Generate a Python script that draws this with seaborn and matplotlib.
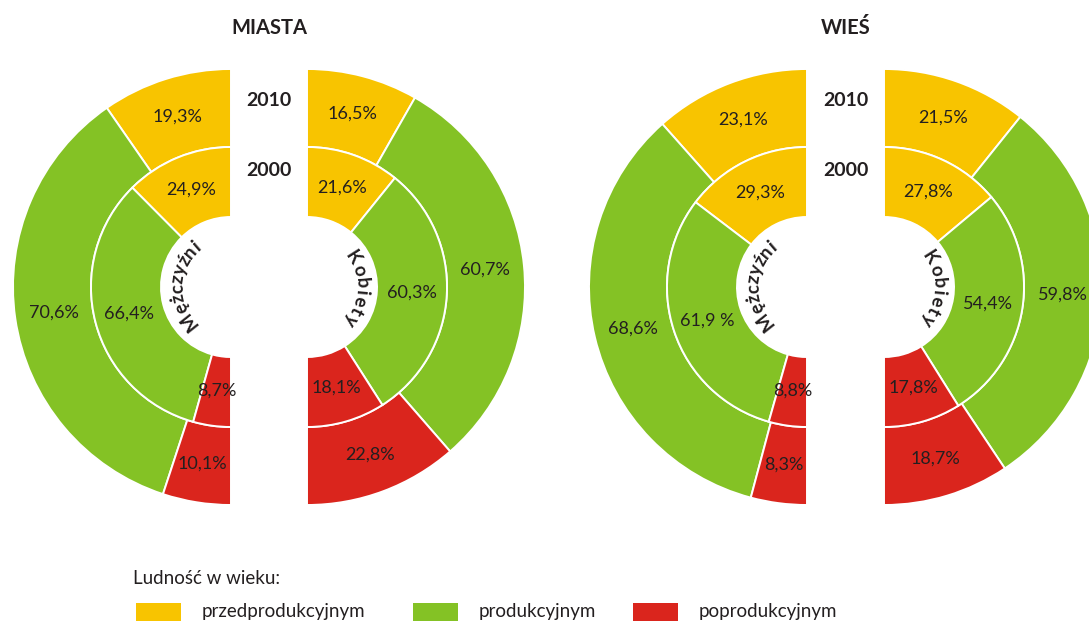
import numpy as np
import matplotlib
matplotlib.use("Agg")
import matplotlib.pyplot as plt
import seaborn as sns
from matplotlib.patches import Rectangle

# ---------------- data ----------------
categories = ["przedprodukcyjnym", "produkcyjnym", "poprodukcyjnym"]
miasta_m_2010 = [19.3, 70.6, 10.1]
miasta_m_2000 = [24.9, 66.4, 8.7]
miasta_k_2010 = [16.5, 60.7, 22.8]
miasta_k_2000 = [21.6, 60.3, 18.1]
wies_m_2010 = [23.1, 68.6, 8.3]
wies_m_2000 = [29.3, 61.9, 8.8]
wies_k_2010 = [21.5, 59.8, 18.7]
wies_k_2000 = [27.8, 54.4, 17.8]
panel_titles = ["MIASTA", "WIEŚ"]
sex_labels = ["Mężczyźni", "Kobiety"]
year_labels = ["2010", "2000"]
legend_title = "Ludność w wieku:"
label_override = {("WIEŚ", "M", "2000", 1): "61,9 %"}

colors = ["#F8C400", "#84C225", "#DA251D"]

sns.set_theme(style="white")
plt.rcParams["font.family"] = ["Lato", "DejaVu Sans"]

W, H = 1089, 621
fig = plt.figure(figsize=(W / 100, H / 100), dpi=100)
ax = fig.add_axes([0, 0, 1, 1])
ax.set_xlim(0, W)
ax.set_ylim(0, H)
ax.set_aspect("equal")
renderer = fig.canvas.get_renderer()

R_OUT, R_MID, R_IN = 218, 140, 70
CY = H - 287
TXT = "#231f20"


def fmt(v):
    return f"{v:.1f}%".replace(".", ",")


def half_ring(vals, cx, r_out, r_in, left, key):
    frac = np.array(vals) / 200.0
    wedges, _ = ax.pie(frac, normalize=False, radius=r_out, center=(cx, CY),
                       startangle=90, counterclock=left, colors=colors,
                       frame=True,
                       wedgeprops=dict(width=r_out - r_in, edgecolor="white",
                                       linewidth=1.4))
    rr = (r_out + r_in) / 2
    for i, (w, v) in enumerate(zip(wedges, vals)):
        ang = np.deg2rad((w.theta1 + w.theta2) / 2)
        lab = label_override.get(key + (i,), fmt(v))
        ax.text(cx + rr * np.cos(ang), CY + rr * np.sin(ang), lab,
                ha="center", va="center", fontsize=13, color=TXT)


def arc_text(s, cx, cy, r_base, mid_deg, size=13.5, track=0.6):
    """Text along a circle, read clockwise, letter tops pointing outward."""
    widths = []
    for ch in s:
        t = ax.text(0, 0, ch, fontsize=size, fontweight="bold")
        widths.append(t.get_window_extent(renderer).width + track)
        t.remove()
    total = sum(widths)
    pos = -total / 2
    for ch, wd in zip(s, widths):
        c = pos + wd / 2
        pos += wd
        th = mid_deg - np.rad2deg(c / (r_base + 5))
        a = np.deg2rad(th)
        ax.text(cx + r_base * np.cos(a), cy + r_base * np.sin(a), ch,
                fontsize=size, fontweight="bold", color=TXT, ha="center",
                va="baseline", rotation=th - 90, rotation_mode="anchor")


panels = [
    ("MIASTA", 231, 307, miasta_m_2010, miasta_m_2000, miasta_k_2010, miasta_k_2000),
    ("WIEŚ", 807, 884, wies_m_2010, wies_m_2000, wies_k_2010, wies_k_2000),
]

for title, cxl, cxr, m10, m00, k10, k00 in panels:
    half_ring(m10, cxl, R_OUT, R_MID, True, (title, "M", "2010"))
    half_ring(m00, cxl, R_MID, R_IN, True, (title, "M", "2000"))
    half_ring(k10, cxr, R_OUT, R_MID, False, (title, "K", "2010"))
    half_ring(k00, cxr, R_MID, R_IN, False, (title, "K", "2000"))
    cmid = (cxl + cxr) / 2
    ax.text(cmid, H - 28, title, ha="center", va="center", fontsize=14.5,
            fontweight="bold", color=TXT)
    ax.text(cmid, H - 100, year_labels[0], ha="center", va="center",
            fontsize=14, fontweight="bold", color=TXT)
    ax.text(cmid, H - 171, year_labels[1], ha="center", va="center",
            fontsize=14, fontweight="bold", color=TXT)
    arc_text(sex_labels[0], cxl, CY, 48, 178)
    arc_text(sex_labels[1], cxr, CY, 49, -1.5, track=1.8)

# ---------------- legend ----------------
ax.text(133, H - 578, legend_title, ha="left", va="center", fontsize=13.5,
        color=TXT)
leg_x = [136, 413, 633]
for x0, c, lab in zip(leg_x, colors, categories):
    ax.add_patch(Rectangle((x0, 0), 45, 18, facecolor=c, edgecolor="none"))
    ax.text(x0 + 66, H - 611, lab, ha="left", va="center", fontsize=13.5,
            color=TXT)

ax.set_xlim(0, W)
ax.set_ylim(0, H)
ax.set_aspect("equal")
ax.axis("off")
fig.savefig("out.png", dpi=100)
